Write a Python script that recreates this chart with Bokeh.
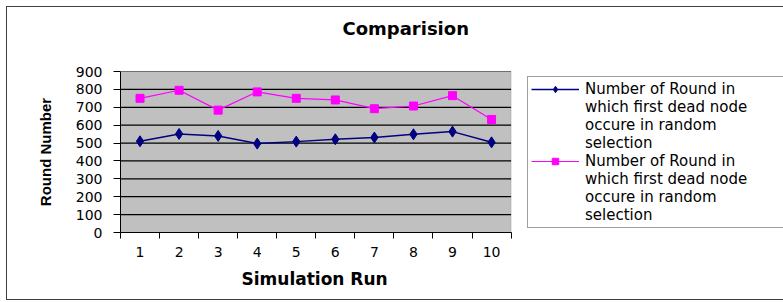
from bokeh.plotting import figure
from bokeh.models import FixedTicker, Legend, LegendItem, Title, Range1d, BoxAnnotation
from bokeh.embed import file_html
from bokeh.resources import INLINE

runs = [1, 2, 3, 4, 5, 6, 7, 8, 9, 10]
first_dead_blue = [510, 551, 540, 497, 508, 521, 531, 549, 564, 504]
first_dead_pink = [750, 795, 684, 786, 750, 741, 692, 707, 765, 632]
y_ticks = [0, 100, 200, 300, 400, 500, 600, 700, 800, 900]
label_first_line = "Number of Round in"
label_rest = "which first dead node\noccure in random\nselection"

# geometry (pixels)
FRAME_LEFT = 113
CANVAS_W = 776
PX_PER_RUN = 39.0
x_lo = runs[0] - 0.5
x_hi = runs[-1] + 0.5
x_view_hi = x_lo + (CANVAS_W - FRAME_LEFT) / PX_PER_RUN

p = figure(width=777, height=294, output_backend="svg", toolbar_location=None,
           x_range=Range1d(x_lo, x_view_hi), y_range=Range1d(y_ticks[0], y_ticks[-1]),
           min_border_left=FRAME_LEFT, min_border_right=0, min_border_top=64,
           min_border_bottom=69)
p.styles = {"border": "1px solid #404040", "border-right": "none",
            "box-sizing": "border-box",
            "margin-left": "6px", "margin-top": "6px"}
p.background_fill_color = "white"
p.border_fill_color = "white"
p.outline_line_color = None

title = Title(text="Comparision\n ", align="left", offset=222, standoff=20,
              vertical_align="top",
              text_font="DejaVu Sans", text_font_size="18px", text_font_style="bold",
              text_color="black")
p.add_layout(title, "above")

xlabel = Title(text="Simulation Run", align="left", offset=121, standoff=18,
               vertical_align="top",
               text_font="DejaVu Sans", text_font_size="17px", text_font_style="bold",
               text_color="black")
p.add_layout(xlabel, "below")

# plot area
p.add_layout(BoxAnnotation(left=x_lo, right=x_hi, bottom=y_ticks[0], top=y_ticks[-1],
                           fill_color="#C0C0C0", fill_alpha=1.0,
                           line_color="#808080", line_width=1, level="underlay"))
p.segment(x0=[x_lo] * len(y_ticks), x1=[x_hi] * len(y_ticks), y0=y_ticks, y1=y_ticks,
          line_color="black", line_width=1.2)

bl = p.line(runs, first_dead_blue, line_color="#000080", line_width=1.5)
bs = p.scatter(runs, first_dead_blue, marker="diamond", size=11, fill_color="#000080",
               line_color="#000080")
pl = p.line(runs, first_dead_pink, line_color="#FF00FF", line_width=1.2)
ps = p.scatter(runs, first_dead_pink, marker="square", size=8, fill_color="#FF00FF",
               line_color="#FF00FF")

# axes
p.xaxis.bounds = (x_lo, x_hi)
p.xaxis.ticker = FixedTicker(ticks=runs, minor_ticks=[r + 0.5 for r in [0] + runs])
p.xaxis.major_tick_line_color = None
p.xaxis.major_tick_out = 0
p.xaxis.major_tick_in = 0
p.xaxis.minor_tick_out = 6
p.xaxis.minor_tick_in = 0
p.xaxis.minor_tick_line_color = "black"
p.xaxis.major_label_standoff = 8

p.yaxis.ticker = FixedTicker(ticks=y_ticks)
p.yaxis.minor_tick_line_color = None
p.yaxis.major_tick_out = 7
p.yaxis.major_tick_in = 0
p.yaxis.major_label_standoff = 11
p.yaxis.axis_label = "Round Number"
p.yaxis.axis_label_standoff = 19

for ax in (p.xaxis, p.yaxis):
    ax.axis_line_color = "black"
    ax.major_label_text_font = "DejaVu Sans"
    ax.major_label_text_font_size = "14px"
    ax.major_label_text_color = "black"
    ax.axis_label_text_font = "Liberation Sans"
    ax.axis_label_text_font_style = "bold"
    ax.axis_label_text_color = "black"
p.yaxis.axis_label_text_font_size = "15px"
p.yaxis.major_tick_line_color = "black"

p.xgrid.grid_line_color = None
p.ygrid.grid_line_color = None

legend = Legend(items=[LegendItem(label=label_first_line, renderers=[bl, bs]),
                       LegendItem(label=label_rest, renderers=[]),
                       LegendItem(label=label_first_line, renderers=[pl, ps]),
                       LegendItem(label=label_rest, renderers=[])],
                location=(407, 4))
legend.label_text_font = "DejaVu Sans"
legend.label_text_font_size = "15px"
legend.label_text_line_height = 1.23
legend.label_text_color = "black"
legend.label_height = 18
legend.label_width = 260
legend.glyph_height = 16
legend.glyph_width = 48
legend.label_standoff = 6
legend.padding = 3
legend.spacing = 0
legend.margin = 0
legend.border_line_color = "#404040"
legend.border_line_width = 1.5
legend.background_fill_color = "white"
legend.background_fill_alpha = 1.0
p.add_layout(legend, "center")

open("out.html", "w").write(file_html(p, INLINE))
